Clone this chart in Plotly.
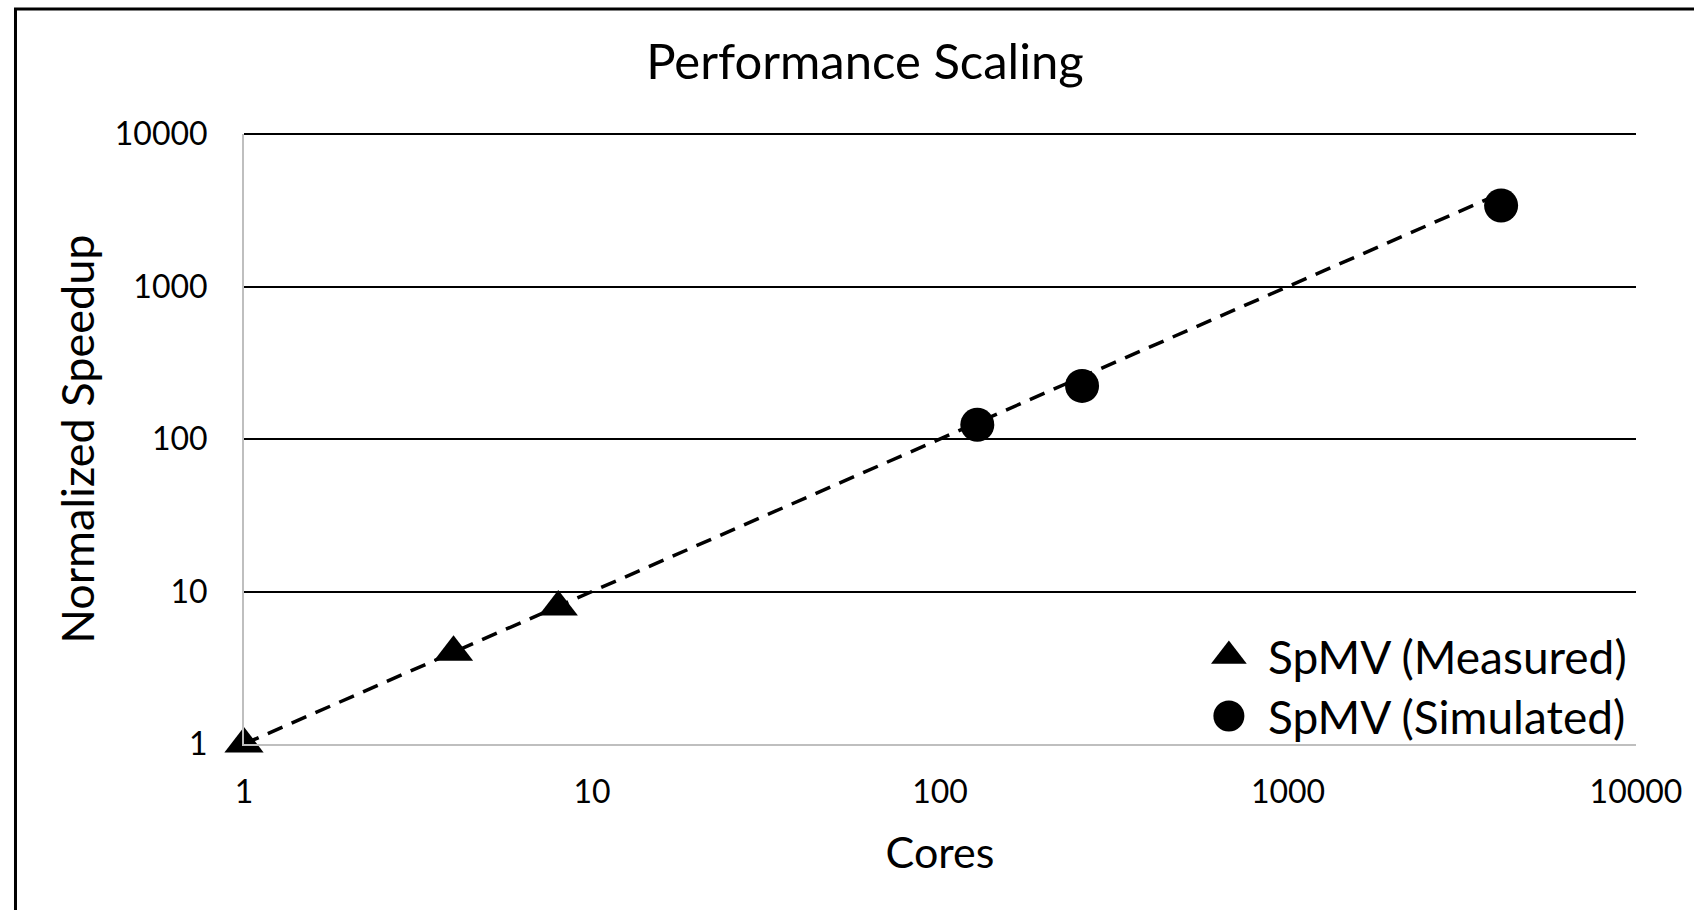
import plotly.graph_objects as go

# Measured and simulated SpMV speedup versus core count
measured_cores = [1, 4, 8]
measured_speedup = [1, 4.0, 7.9]

simulated_cores = [128, 256, 4096]
simulated_speedup = [124, 223, 3400]

# Linear-scaling reference (speedup equals core count)
ideal_cores = [1, 4096]
ideal_speedup = [1, 4096]

tick_vals = [1, 10, 100, 1000, 10000]
tick_text = ["1", "10", "100", "1000", "10000"]

legend_labels = ["SpMV (Measured)", "SpMV (Simulated)"]

FONT = "Lato"
W, H = 1694, 910
L, R, T, B = 244, 55, 134, 166
PW, PH = W - L - R, H - T - B


def px_to_paper_x(px):
    return (px - L) / PW


def px_to_paper_y(py):
    return (H - B - py) / PH


fig = go.Figure()

fig.add_trace(go.Scatter(
    x=ideal_cores, y=ideal_speedup, mode="lines",
    line=dict(color="black", width=3.5, dash="16px,10px"),
    showlegend=False, hoverinfo="skip", cliponaxis=False,
))
fig.add_trace(go.Scatter(
    x=measured_cores, y=measured_speedup, mode="markers",
    marker=dict(symbol="triangle-up", size=34, color="black",
                line=dict(width=0), opacity=1),
    name=legend_labels[0], showlegend=False, cliponaxis=False,
))
fig.add_trace(go.Scatter(
    x=simulated_cores, y=simulated_speedup, mode="markers",
    marker=dict(symbol="circle", size=34, color="black",
                line=dict(width=0), opacity=1),
    name=legend_labels[1], showlegend=False, cliponaxis=False,
))

# Legend keys drawn on an overlay axis spanning the plot area
leg_x = px_to_paper_x(1231)
leg_y = [px_to_paper_y(656), px_to_paper_y(716)]
fig.add_trace(go.Scatter(
    x=[leg_x], y=[leg_y[0]], mode="markers",
    marker=dict(symbol="triangle-up", size=31, color="black",
                line=dict(width=0), opacity=1),
    xaxis="x2", yaxis="y2", showlegend=False, hoverinfo="skip",
    cliponaxis=False,
))
fig.add_trace(go.Scatter(
    x=[leg_x], y=[leg_y[1]], mode="markers",
    marker=dict(symbol="circle", size=31, color="black",
                line=dict(width=0), opacity=1),
    xaxis="x2", yaxis="y2", showlegend=False, hoverinfo="skip",
    cliponaxis=False,
))
for label, yy in zip(legend_labels, leg_y):
    fig.add_annotation(
        x=px_to_paper_x(1268), y=yy, xref="paper", yref="paper",
        text=label, showarrow=False, xanchor="left", yanchor="middle",
        font=dict(family=FONT, size=46, color="black"),
    )

# Top gridline along the upper edge of the plot area
fig.add_shape(
    type="line", xref="paper", yref="paper", x0=0, x1=1, y0=1, y1=1,
    line=dict(color="black", width=2), layer="below",
)

# Outer chart frame
fig.add_shape(
    type="rect", xref="paper", yref="paper",
    x0=px_to_paper_x(15), x1=px_to_paper_x(1760),
    y0=px_to_paper_y(960), y1=px_to_paper_y(9),
    line=dict(color="black", width=3), fillcolor="rgba(0,0,0,0)",
    layer="above",
)

fig.update_layout(
    width=W, height=H,
    margin=dict(l=L, r=R, t=T, b=B),
    paper_bgcolor="white", plot_bgcolor="white",
    showlegend=False,
    title=dict(
        text="Performance Scaling", xref="container", yref="container",
        x=865 / W, y=1 - 62 / H, xanchor="center", yanchor="middle",
        font=dict(family=FONT, size=49, color="black"),
    ),
    xaxis=dict(
        type="log", range=[0, 4], tickvals=tick_vals, ticktext=tick_text,
        showgrid=False, zeroline=False, showline=True, linecolor="#bfbfbf",
        linewidth=2, ticks="", ticklabelstandoff=19,
        tickfont=dict(family=FONT, size=32, color="black"),
        title=dict(text="Cores", standoff=28,
                   font=dict(family=FONT, size=43, color="black")),
    ),
    yaxis=dict(
        type="log", range=[0, 4], tickvals=tick_vals, ticktext=tick_text,
        showgrid=True, gridcolor="black", gridwidth=2,
        zeroline=False, showline=True, linecolor="#bfbfbf", linewidth=2,
        ticks="", ticklabelstandoff=28,
        tickfont=dict(family=FONT, size=32, color="black"),
        title=dict(text="Normalized Speedup", standoff=6,
                   font=dict(family=FONT, size=45, color="black")),
    ),
    xaxis2=dict(range=[0, 1], overlaying="x", visible=False, fixedrange=True),
    yaxis2=dict(range=[0, 1], overlaying="y", visible=False, fixedrange=True),
)

fig.write_html("out.html")
